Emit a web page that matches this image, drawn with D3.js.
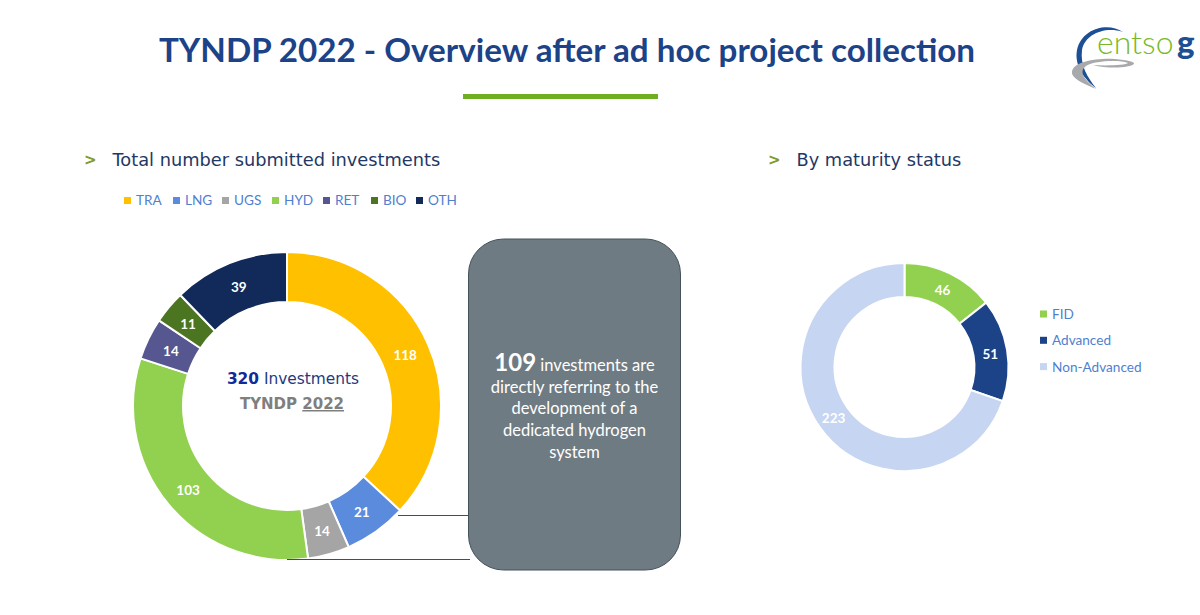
<!DOCTYPE html>
<html>
<head>
<meta charset="utf-8">
<script src="https://cdn.jsdelivr.net/npm/d3@7"></script>
<style>
  html, body { margin: 0; padding: 0; background: #fff; overflow: hidden; }
  text { font-family: Lato, sans-serif; }
  .head { font-family: "DejaVu Sans", sans-serif; font-size: 17.8px; fill: #1f3864; }
  .legend { font-size: 13.6px; fill: #4f7fd0; }
  .val { font-size: 13.5px; font-weight: 700; fill: #fff; text-anchor: middle; dominant-baseline: central; }
</style>
</head>
<body>
<div id="chart"></div>
<script>
const investCats = ["TRA", "LNG", "UGS", "HYD", "RET", "BIO", "OTH"];
const investVals = [118, 21, 14, 103, 14, 11, 39];
const investCols = ["#ffc000", "#5b8bdd", "#a5a5a5", "#92d050", "#565690", "#4b7520", "#112a5a"];

const matCats = ["FID", "Advanced", "Non-Advanced"];
const matVals = [46, 51, 223];
const matCols = ["#92d050", "#1c4288", "#c6d5f1"];

const boxLines = [
  [{ t: "109", big: true }, { t: " investments are" }],
  [{ t: "directly referring to the" }],
  [{ t: "development of a" }],
  [{ t: "dedicated hydrogen" }],
  [{ t: "system" }]
];

const svg = d3.select("#chart").append("svg").attr("width", 1200).attr("height", 615);

// title + green bar
svg.append("text").attr("x", 567).attr("y", 62).attr("text-anchor", "middle")
  .attr("font-size", 33.2).attr("font-weight", 700).attr("fill", "#1c4288")
  .text("TYNDP 2022 - Overview after ad hoc project collection");
svg.append("rect").attr("x", 463).attr("y", 94).attr("width", 195).attr("height", 5).attr("fill", "#6fae22");

// section heads
function head(x, label) {
  svg.append("text").attr("x", x).attr("y", 165).attr("font-size", 15).attr("font-weight", 700)
    .style("font-family", "'DejaVu Sans', sans-serif").attr("fill", "#7f9a2e").text(">");
  svg.append("text").attr("class", "head").attr("x", x + 28.5).attr("y", 166).text(label);
}
head(84, "Total number submitted investments");
head(768, "By maturity status");

function donut(cx, cy, outer, inner, vals, cols) {
  const arcs = d3.pie().sort(null)(vals);
  const arc = d3.arc().outerRadius(outer).innerRadius(inner);
  const g = svg.append("g").attr("transform", `translate(${cx},${cy})`);
  g.selectAll("path").data(arcs).join("path")
    .attr("d", arc)
    .attr("fill", (d, i) => cols[i])
    .attr("stroke", "#fff").attr("stroke-width", 2);
  g.selectAll("text").data(arcs).join("text")
    .attr("class", "val")
    .attr("transform", d => {
      const c = arc.centroid(d);
      return `translate(${c[0]},${c[1] + 1})`;
    })
    .text(d => d.value);
}

donut(287, 406, 154, 104, investVals, investCols);
donut(904.5, 367, 104, 70, matVals, matCols);

// connector lines, the lower one runs along the foot of the ring
svg.append("line").attr("x1", 398).attr("x2", 470).attr("y1", 515.5).attr("y2", 515.5)
  .attr("stroke", "#2f4f86").attr("stroke-width", 1);
svg.append("line").attr("x1", 287).attr("x2", 470).attr("y1", 559.5).attr("y2", 559.5)
  .attr("stroke", "#2f4f86").attr("stroke-width", 1);

// legend, left chart
const legendX = [124, 173, 222, 272, 323, 371, 416];
investCats.forEach((c, i) => {
  svg.append("rect").attr("x", legendX[i]).attr("y", 197).attr("width", 7).attr("height", 7).attr("fill", investCols[i]);
  svg.append("text").attr("class", "legend").attr("x", legendX[i] + 12).attr("y", 205).text(c);
});

// legend, right chart
matCats.forEach((c, i) => {
  const y = 314 + i * 26.3;
  svg.append("rect").attr("x", 1040).attr("y", y - 3.5).attr("width", 7).attr("height", 7).attr("fill", matCols[i]);
  svg.append("text").attr("class", "legend").attr("x", 1052).attr("y", y + 5).text(c);
});

// centre text
const centre = svg.append("text").attr("x", 293).attr("y", 383.5).attr("text-anchor", "middle")
  .attr("font-size", 15.4).style("font-family", "'DejaVu Sans', sans-serif").attr("fill", "#1f3a80");
centre.append("tspan").attr("font-weight", 700).attr("fill", "#0f2a99").text("320");
centre.append("tspan").text(" Investments");
const centre2 = svg.append("text").attr("x", 292).attr("y", 409).attr("text-anchor", "middle")
  .attr("font-size", 15).attr("font-weight", 700).style("font-family", "'DejaVu Sans', sans-serif").attr("fill", "#7f7f7f");
centre2.append("tspan").text("TYNDP ");
centre2.append("tspan").attr("text-decoration", "underline").text("2022");

// callout box
svg.append("rect").attr("x", 468.5).attr("y", 239).attr("width", 212).attr("height", 331).attr("rx", 35)
  .attr("fill", "#6f7b82").attr("stroke", "#44525a").attr("stroke-width", 1);
boxLines.forEach((line, i) => {
  const t = svg.append("text").attr("x", 574.5).attr("y", 371 + i * 21.7).attr("text-anchor", "middle")
    .attr("font-size", 16.5).attr("fill", "#fff");
  line.forEach(p => {
    const s = t.append("tspan").text(p.t);
    if (p.big) s.attr("font-size", 24).attr("font-weight", 700);
  });
});

// logo
const logo = svg.append("g");
logo.append("path").attr("d", "M1123 32 C1108 22 1082 28 1077 50 C1074 66 1085 80 1096 88 C1088 78 1080 66 1082 50 C1085 34 1105 26 1123 32 Z")
  .attr("fill", "#1c4f94");
logo.append("path").attr("d", "M1096 89 C1084 84 1071 78 1072 72 C1073 62 1095 58 1115 59 C1128 60 1135 62 1134 64 C1130 68 1108 69 1093 65 C1108 66 1126 65 1128 63 C1122 60 1095 60 1086 66 C1078 72 1085 80 1096 89 Z")
  .attr("fill", "#a7a9ac");
logo.append("text").attr("x", 1097).attr("y", 54).attr("font-size", 32).attr("font-weight", 300)
  .attr("fill", "#7ab929").text("entso");
logo.append("text").attr("x", 1177).attr("y", 54).attr("font-size", 33).attr("font-weight", 900).attr("fill", "#1c4f94").text("g");
</script>
</body>
</html>
